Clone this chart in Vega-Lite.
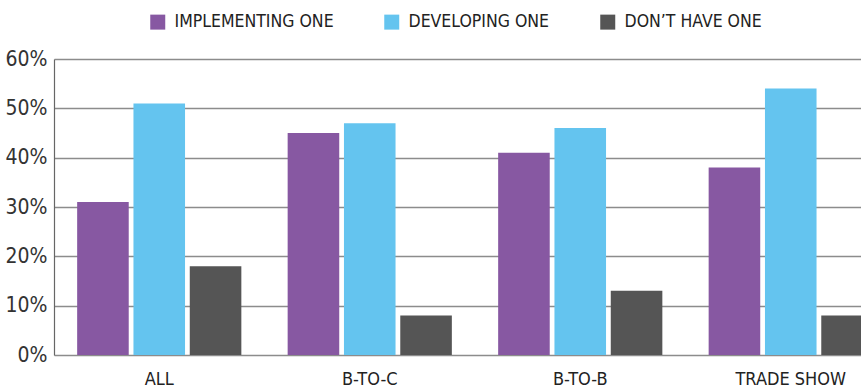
{
  "$schema": "https://vega.github.io/schema/vega-lite/v6.json",
  "autosize": "none",
  "width": 807,
  "height": 296,
  "padding": {"left": 54, "top": 59, "right": 0, "bottom": 37},
  "background": "white",
  "data": {
    "values": [
      {"segment": "ALL", "status": "IMPLEMENTING ONE", "share": 0.31},
      {"segment": "ALL", "status": "DEVELOPING ONE", "share": 0.51},
      {"segment": "ALL", "status": "DON’T HAVE ONE", "share": 0.18},
      {"segment": "B-TO-C", "status": "IMPLEMENTING ONE", "share": 0.45},
      {"segment": "B-TO-C", "status": "DEVELOPING ONE", "share": 0.47},
      {"segment": "B-TO-C", "status": "DON’T HAVE ONE", "share": 0.08},
      {"segment": "B-TO-B", "status": "IMPLEMENTING ONE", "share": 0.41},
      {"segment": "B-TO-B", "status": "DEVELOPING ONE", "share": 0.46},
      {"segment": "B-TO-B", "status": "DON’T HAVE ONE", "share": 0.13},
      {"segment": "TRADE SHOW", "status": "IMPLEMENTING ONE", "share": 0.38},
      {"segment": "TRADE SHOW", "status": "DEVELOPING ONE", "share": 0.54},
      {"segment": "TRADE SHOW", "status": "DON’T HAVE ONE", "share": 0.08}
    ]
  },
  "mark": {"type": "bar"},
  "encoding": {
    "x": {
      "field": "segment",
      "type": "nominal",
      "sort": ["ALL", "B-TO-C", "B-TO-B", "TRADE SHOW"],
      "scale": {"range": [0, 842], "paddingInner": 0.22, "paddingOuter": 0.11},
      "axis": {
        "title": null,
        "domain": false,
        "ticks": false,
        "labelAngle": 0,
        "labelPadding": 15,
        "labelFontSize": 18,
        "labelColor": "#222222"
      }
    },
    "xOffset": {
      "field": "status",
      "type": "nominal",
      "sort": ["IMPLEMENTING ONE", "DEVELOPING ONE", "DON’T HAVE ONE"],
      "scale": {"paddingInner": 0.084, "paddingOuter": 0}
    },
    "y": {
      "field": "share",
      "type": "quantitative",
      "scale": {"domain": [0, 0.6], "nice": false},
      "axis": {
        "title": null,
        "values": [0, 0.1, 0.2, 0.3, 0.4, 0.5, 0.6],
        "format": ".0%",
        "ticks": false,
        "domain": true,
        "domainColor": "#666666",
        "domainWidth": 1.2,
        "grid": true,
        "gridColor": "#8c8c8c",
        "gridWidth": 1.4,
        "labelPadding": 7,
        "labelFontSize": 21,
        "labelColor": "#333333"
      }
    },
    "color": {
      "field": "status",
      "type": "nominal",
      "scale": {
        "domain": ["IMPLEMENTING ONE", "DEVELOPING ONE", "DON’T HAVE ONE"],
        "range": ["#8758A2", "#64C4EF", "#555555"]
      },
      "legend": {
        "title": null,
        "orient": "none",
        "direction": "horizontal",
        "legendX": 95,
        "legendY": -46,
        "padding": 0,
        "symbolType": "square",
        "symbolSize": 225,
        "symbolStrokeWidth": 0,
        "symbolOpacity": 1,
        "labelOffset": 8,
        "columnPadding": 49,
        "labelFontSize": 17.5,
        "labelColor": "#222222",
        "labelLimit": 300
      }
    }
  },
  "config": {
    "font": "DejaVu Sans Condensed, sans-serif",
    "view": {"stroke": null},
    "axis": {"labelFont": "DejaVu Sans Condensed, sans-serif"},
    "legend": {"labelFont": "DejaVu Sans Condensed, sans-serif"}
  }
}
